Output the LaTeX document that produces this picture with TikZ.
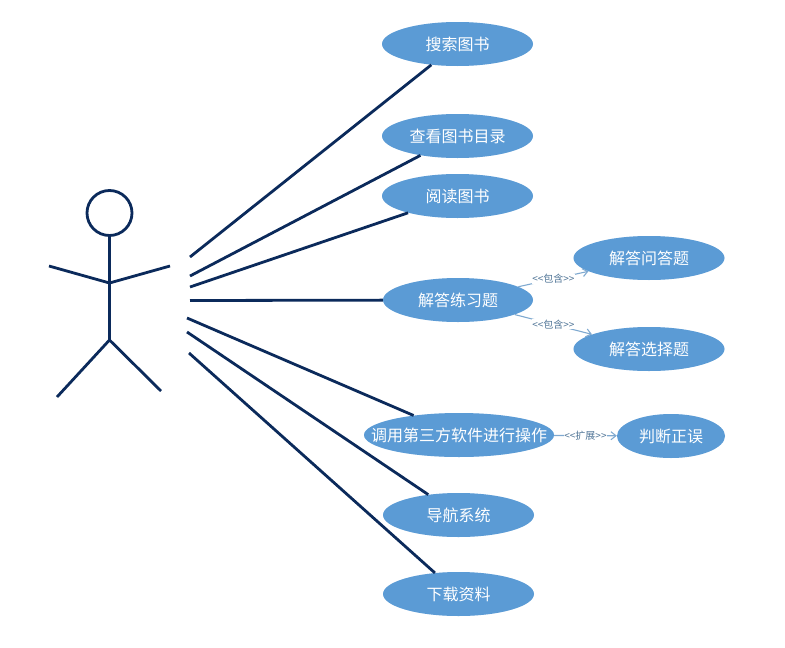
\documentclass[tikz,border=0pt]{standalone}
\usepackage{fontspec}
\setmainfont{Noto Sans CJK SC}
\usetikzlibrary{arrows.meta,shapes.geometric,shadows}
\definecolor{navy}{HTML}{0B2A5B}
\definecolor{usefill}{HTML}{5B9BD5}
\definecolor{deplabel}{HTML}{4F7496}
\definecolor{depline}{HTML}{7FA9D0}
\tikzset{
  x=1pt,y=-1pt,
  usecase/.style={ellipse,draw=none,fill=usefill,text=white,inner sep=0pt,inner xsep=-40pt,
    minimum width=151pt,minimum height=44pt,font=\fontsize{16}{18}\selectfont,
    general shadow={fill=usefill!45,opacity=.45,shift={(0pt,-1.2pt)},scale=1.01}},
  actorline/.style={draw=navy,line width=2.8pt},
  assoc/.style={draw=navy,line width=2.8pt},
  dep/.style={draw=depline,line width=1.1pt,-{Straight Barb[length=5pt,width=8pt,line width=1.1pt]}},
  deptext/.style={fill=white,inner sep=.4pt,text=deplabel,font=\fontsize{10}{12}\selectfont},
}
\begin{document}
\begin{tikzpicture}
\useasboundingbox (0,0) rectangle (785,648);
% use cases
\node[usecase] (search) at (457.5,44) {搜索图书};
\node[usecase] (catalog) at (457.5,136) {查看图书目录};
\node[usecase] (read) at (457.5,196) {阅读图书};
\node[usecase,minimum width=150pt] (exercise) at (458,300) {解答练习题};
\node[usecase] (essay) at (649,258) {解答问答题};
\node[usecase] (choice) at (649,349) {解答选择题};
\node[usecase,minimum width=190pt] (third) at (459,435) {调用第三方软件进行操作};
\node[usecase,minimum width=108pt] (judge) at (671,436) {判断正误};
\node[usecase] (nav) at (458.5,515) {导航系统};
\node[usecase] (download) at (458.5,594) {下载资料};
% actor
\node[circle,draw=navy,line width=2.8pt,minimum size=45pt,inner sep=0pt] (head) at (109.5,213) {};
\coordinate (neck) at (109.5,283);
\coordinate (hip) at (109.5,340);
\coordinate (handl) at (49,266);
\coordinate (handr) at (170,266);
\coordinate (footl) at (57,397);
\coordinate (footr) at (161,391);
\draw[actorline] (head.south) -- (hip);
\draw[actorline] (handl) -- (neck) -- (handr);
\draw[actorline] (footl) -- (hip) -- (footr);
% associations
\coordinate (a1) at (190,257);
\coordinate (a2) at (190,276);
\coordinate (a3) at (190,287);
\coordinate (a4) at (190,300.5);
\coordinate (a5) at (187,318);
\coordinate (a6) at (187,332);
\coordinate (a7) at (189,353);
\draw[assoc] (a1) -- (search);
\draw[assoc] (a2) -- (catalog);
\draw[assoc] (a3) -- (read);
\draw[assoc] (a4) -- (exercise);
\draw[assoc] (a5) -- (third);
\draw[assoc] (a6) -- (nav);
\draw[assoc] (a7) -- (download);
% dependencies
\draw[dep] (exercise) -- (essay) node[deptext,pos=.5] {<{}<包含>{}>};
\draw[dep] (exercise) -- (choice) node[deptext,pos=.5] {<{}<包含>{}>};
\draw[dep] (third) -- (judge) node[deptext,pos=.5] {<{}<扩展>{}>};
\end{tikzpicture}
\end{document}
